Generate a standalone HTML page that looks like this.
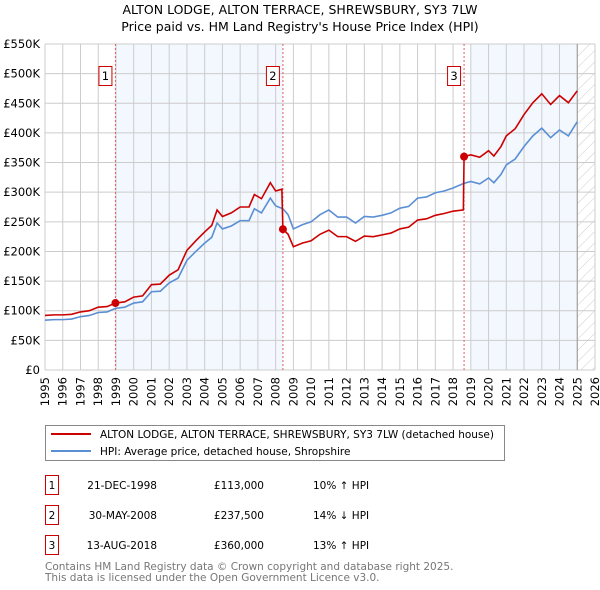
<!DOCTYPE html>
<html><head><meta charset="utf-8"><style>
body{margin:0;background:#fff;font-family:"Liberation Sans","DejaVu Sans",sans-serif;}
svg{display:block}
</style></head><body>
<svg id="chart" width="600" height="590" xmlns="http://www.w3.org/2000/svg" font-family="'DejaVu Sans','Liberation Sans',sans-serif">
<defs><pattern id="hatch" width="8" height="8" patternUnits="userSpaceOnUse" patternTransform="rotate(45)"><line x1="0" y1="0" x2="0" y2="8" stroke="#ccc" stroke-width="1"/></pattern></defs>
<text x="300" y="14" text-anchor="middle" font-size="12.5" fill="#000">ALTON LODGE, ALTON TERRACE, SHREWSBURY, SY3 7LW</text>
<text x="300" y="31" text-anchor="middle" font-size="12.5" fill="#000">Price paid vs. HM Land Registry's House Price Index (HPI)</text>
<g id="plot"></g>
<g>
<rect x="45.5" y="425.5" width="459" height="35" fill="#fff" stroke="#888"/>
<line x1="51" y1="434" x2="91" y2="434" stroke="#cc0000" stroke-width="2"/>
<text x="100" y="438" font-size="10.5" textLength="394">ALTON LODGE, ALTON TERRACE, SHREWSBURY, SY3 7LW (detached house)</text>
<line x1="51" y1="451" x2="91" y2="451" stroke="#5b8fd4" stroke-width="2"/>
<text x="100" y="455" font-size="10.5">HPI: Average price, detached house, Shropshire</text>
</g>
<g font-size="10.5">
<rect x="45.5" y="475.5" width="13" height="19" fill="#fff" stroke="#cc0000"/><text x="52" y="489" text-anchor="middle">1</text>
<text x="157" y="489" text-anchor="end">21-DEC-1998</text><text x="264" y="489" text-anchor="end">£113,000</text><text x="313" y="489">10% ↑ HPI</text>
<rect x="45.5" y="505.5" width="13" height="19" fill="#fff" stroke="#cc0000"/><text x="52" y="519" text-anchor="middle">2</text>
<text x="157" y="519" text-anchor="end">30-MAY-2008</text><text x="264" y="519" text-anchor="end">£237,500</text><text x="313" y="519">14% ↓ HPI</text>
<rect x="45.5" y="535.5" width="13" height="19" fill="#fff" stroke="#cc0000"/><text x="52" y="549" text-anchor="middle">3</text>
<text x="157" y="549" text-anchor="end">13-AUG-2018</text><text x="264" y="549" text-anchor="end">£360,000</text><text x="313" y="549">13% ↑ HPI</text>
</g>
<text x="45" y="570" font-size="10.5" fill="#777">Contains HM Land Registry data © Crown copyright and database right 2025.</text>
<text x="45" y="581" font-size="10.5" fill="#777">This data is licensed under the Open Government Licence v3.0.</text>
</svg>
<script>
const hpiYears=[1995,1995.5,1996,1996.5,1997,1997.5,1998,1998.5,1998.97,1999.5,2000,2000.5,2001,2001.5,2002,2002.5,2003,2003.5,2004,2004.4,2004.7,2005,2005.5,2006,2006.5,2006.8,2007.2,2007.7,2008,2008.41,2008.7,2009,2009.5,2010,2010.5,2011,2011.5,2012,2012.5,2013,2013.5,2014,2014.5,2015,2015.5,2016,2016.5,2017,2017.5,2018,2018.62,2019,2019.5,2020,2020.3,2020.7,2021,2021.5,2022,2022.5,2023,2023.5,2024,2024.5,2025];
const hpiValues=[84,85,85,86,90,92,97,98,104,106,113,115,132,133,147,155,185,200,214,224,248,238,243,252,252,272,265,290,277,272,262,238,245,250,262,270,258,258,248,259,258,261,265,273,276,290,292,299,302,307,315,318,314,324,316,330,346,356,377,395,408,392,405,395,419];
const redYears=[1995,1995.5,1996,1996.5,1997,1997.5,1998,1998.5,1998.97,1999.5,2000,2000.5,2001,2001.5,2002,2002.5,2003,2003.5,2004,2004.4,2004.7,2005,2005.5,2006,2006.5,2006.8,2007.2,2007.7,2008,2008.35,2008.41,2008.7,2009,2009.5,2010,2010.5,2011,2011.5,2012,2012.5,2013,2013.5,2014,2014.5,2015,2015.5,2016,2016.5,2017,2017.5,2018,2018.58,2018.62,2019,2019.5,2020,2020.3,2020.7,2021,2021.5,2022,2022.5,2023,2023.5,2024,2024.5,2025];
const redValues=[92,93,93,94,98,100,106,107,113,115,123,125,144,145,160,169,202,218,233,244,270,259,265,275,275,296,289,316,302,305,237.5,229,208,214,218,229,236,225,225,217,226,225,228,231,238,241,253,255,261,264,268,270,360,363,359,370,361,377,395,407,431,451,466,448,463,451,471];
const saleYears=[1998.97,2008.41,2018.62];
const saleValues=[113,237.5,360];
const saleLabels=["1","2","3"];
const yTicks=[0,50,100,150,200,250,300,350,400,450,500,550];
const yTickLabels=["£0","£50K","£100K","£150K","£200K","£250K","£300K","£350K","£400K","£450K","£500K","£550K"];
const xTicks=[1995,1996,1997,1998,1999,2000,2001,2002,2003,2004,2005,2006,2007,2008,2009,2010,2011,2012,2013,2014,2015,2016,2017,2018,2019,2020,2021,2022,2023,2024,2025,2026];
const shadeRanges=[[1998.97,2008.41],[2019.0,2025.0]];

const X0=45,X1=595,Y0=370,Y1=44;
const xs=t=>X0+(t-1995)/(2026-1995)*(X1-X0);
const ys=v=>Y0-v/550*(Y0-Y1);
const NS="http://www.w3.org/2000/svg";
const g=document.getElementById('plot');
function mk(tag,attrs,parent){const e=document.createElementNS(NS,tag);for(const k in attrs)e.setAttribute(k,attrs[k]);(parent||g).appendChild(e);return e;}
shadeRanges.forEach(r=>{
 const e=mk('rect',{x:xs(r[0]),y:Y1,width:xs(r[1])-xs(r[0]),height:Y0-Y1,fill:'#eef3fd',opacity:0.7});
 
 
});
const hz=mk('rect',{x:xs(2025.0),y:Y1,width:X1-xs(2025.0),height:Y0-Y1,fill:'url(#hatch)'});


xTicks.forEach(t=>{
 const l=mk('line',{x1:xs(t),x2:xs(t),y1:Y1,y2:Y0,stroke:'#ccc','stroke-width':1});
 
 
 const tx=mk('text',{x:0,y:0,'font-size':11.5,'text-anchor':'end',transform:`translate(${xs(t)+4},${Y0+7}) rotate(-90)`});
 tx.textContent=t;
 
 
});
yTicks.forEach((v,i)=>{
 const l=mk('line',{x1:X0,x2:X1,y1:ys(v),y2:ys(v),stroke:'#ccc','stroke-width':1});
 
 
 const tx=mk('text',{x:40,y:ys(v)+4,'font-size':11.5,'text-anchor':'end'});
 tx.textContent=yTickLabels[i];
 
 
});
const nowLine=mk('line',{x1:xs(2025.0),x2:xs(2025.0),y1:Y1,y2:Y0,stroke:'#999','stroke-width':1});


saleYears.forEach((t,i)=>{
 const l=mk('line',{x1:xs(t),x2:xs(t),y1:Y1,y2:Y0,stroke:'#e06060','stroke-width':1,'stroke-dasharray':'2,2'});
 
 
 const b=mk('rect',{x:xs(t)-16.5,y:66.5,width:13,height:19,fill:'#fff',stroke:'#cc0000'});
 
 
 const tx=mk('text',{x:xs(t)-10,y:80,'font-size':11.5,'text-anchor':'middle'});
 tx.textContent=saleLabels[i];
 
 
});
const hp=mk('polyline',{points:hpiYears.map((t,i)=>xs(t)+','+ys(hpiValues[i])).join(' '),fill:'none',stroke:'#5b8fd4','stroke-width':1.6});


const rp=mk('polyline',{points:redYears.map((t,i)=>xs(t)+','+ys(redValues[i])).join(' '),fill:'none',stroke:'#cc0000','stroke-width':1.6});


saleYears.forEach((t,i)=>{
 const c=mk('circle',{cx:xs(t),cy:ys(saleValues[i]),r:4,fill:'#cc0000'});
 
 
});
</script>
</body></html>
